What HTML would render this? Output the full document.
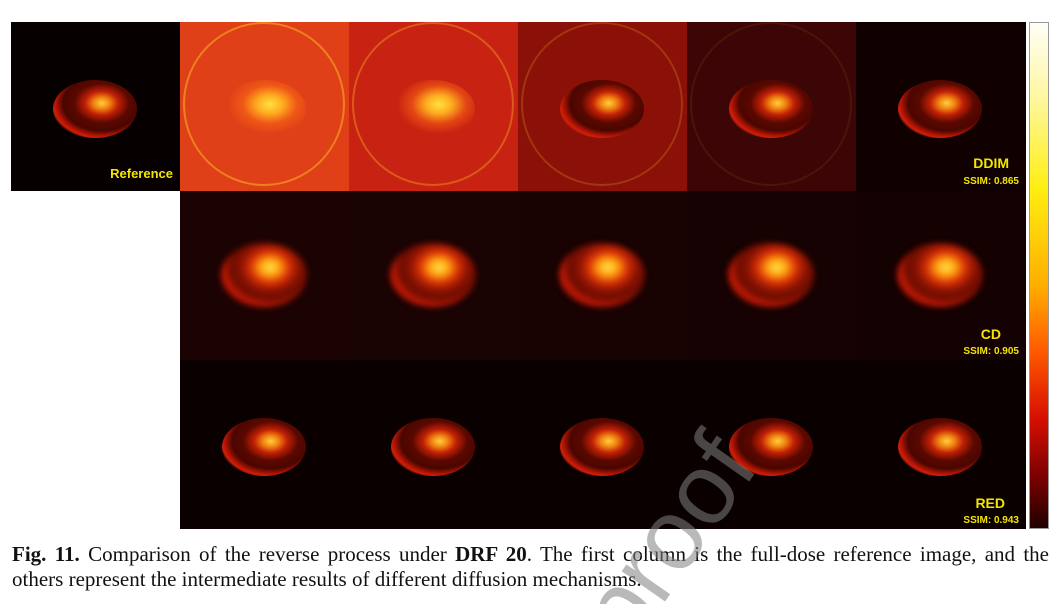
<!DOCTYPE html>
<html><head><meta charset="utf-8"><style>
body{margin:0;width:1060px;height:604px;background:#fff;position:relative;overflow:hidden;font-family:"Liberation Serif",serif}
.tile{position:absolute;width:169px;height:169px;overflow:hidden}
.body{position:absolute;border-radius:50%}
.lbl{position:absolute;font-family:"Liberation Sans",sans-serif;font-weight:bold;color:#f2e600;text-align:right;white-space:nowrap}
#cap{position:absolute;left:12px;top:542px;font-size:21px;line-height:25px;color:#111;width:1037px;height:56px;overflow:hidden}
#cap .l1{display:block;text-align:justify;text-align-last:justify;white-space:nowrap}
#wm{position:absolute;left:0;top:0;pointer-events:none;overflow:hidden}
#fig{position:absolute;left:0;top:0;width:1060px;height:604px;overflow:hidden}
</style></head><body>
<div id="fig"></div>
<div style="position:absolute;left:1029px;top:22px;width:20px;height:507px;border:1px solid #999;box-sizing:border-box;background:linear-gradient(#fffef8 0%,#fff7a0 15%,#ffee10 33%,#ffae00 52%,#ff5a00 65%,#d81000 78%,#7a0000 90%,#200000 100%)"></div>
<div id="cap"><span class="l1"><b>Fig. 11.</b> Comparison of the reverse process under <b>DRF 20</b>. The first column is the full-dose reference image, and the</span>others represent the intermediate results of different diffusion mechanisms.</div>
<svg id="wm" width="1060" height="604"><text x="760" y="466" text-anchor="end" transform="rotate(-55 760 466)" font-family="Liberation Sans, sans-serif" font-size="100" fill="#808080" fill-opacity="0.55">Journal Pre-proof</text></svg>
<script>
const fig=document.getElementById('fig');
const xs=[11,180,349,518,687,856];
const ys=[22,191,360];
const bgs=[
 ['#060000','#e04018','#c82212','#8a1008','#3c0606','#100000'],
 [null,'#1c0303','#1a0303','#180202','#160202','#140101'],
 [null,'#0a0000','#0a0000','#0a0000','#0a0000','#0a0000']];
function makeTile(r,c){
  const bg=bgs[r][c]; if(!bg) return;
  const t=document.createElement('div');
  
  
  t.className='tile';
  t.style.left=xs[c]+'px';t.style.top=ys[r]+'px';t.style.background=bg;
  if(c===5) t.style.width='170px';
  fig.appendChild(t);
  if(r===0&&c>=1&&c<=4){
    const ring=document.createElement('div');
    
    
    ring.className='body';
    ring.style.cssText='left:3px;top:0;width:162px;height:164px;border:2px solid rgba(255,200,40,'+(0.6-c*0.13)+');box-sizing:border-box';
    t.appendChild(ring);
  }
  const b=document.createElement('div');
  
  
  b.className='body';
  const blur=r===1?3:0;
  const w=r===1?86:84, h=r===1?64:58;
  b.style.left=(84-w/2)+'px';b.style.top=(r===1?52:58)+'px';b.style.width=w+'px';b.style.height=h+'px';
  let g;
  if(r===0&&c>=1&&c<=2) g='radial-gradient(ellipse at 57% 42%,#ffe040 0%,#ffb020 18%,rgba(255,110,20,0.5) 40%,rgba(0,0,0,0) 62%)';
  else if(r===1) g='radial-gradient(ellipse at 57% 38%,#ffe850 0%,#ffa010 14%,#d83006 28%,#8a1202 42%,#6a0c00 56%,#c81a06 68%,#a01004 74%,rgba(60,0,0,0) 80%)';
  else g='radial-gradient(ellipse at 58% 40%,#ffd040 0%,#f08010 12%,#c02006 24%,#5a0800 40%,#4a0600 56%,#b01404 66%,#d02008 71%,rgba(60,0,0,0) 76%)';
  b.style.background=g;
  if(blur) b.style.filter='blur('+blur+'px)';
  t.appendChild(b);
}
for(let r=0;r<3;r++)for(let c=0;c<6;c++)makeTile(r,c);
function label(text,x,y,size,name){
  const l=document.createElement('div');
  
  
  l.className='lbl';l.textContent=text;
  l.style.right=(1060-x)+'px';l.style.top=y+'px';l.style.fontSize=size+'px';
  fig.appendChild(l);
}
label('Reference',173,166,13,'label-reference');
label('DDIM',1009,155,14,'label-ddim');
label('SSIM:  0.865',1019,176,10,'label-ddim-ssim');
label('CD',1001,326,14,'label-cd');
label('SSIM:  0.905',1019,346,10,'label-cd-ssim');
label('RED',1005,495,14,'label-red');
label('SSIM:  0.943',1019,515,10,'label-red-ssim');
</script>
</body></html>
